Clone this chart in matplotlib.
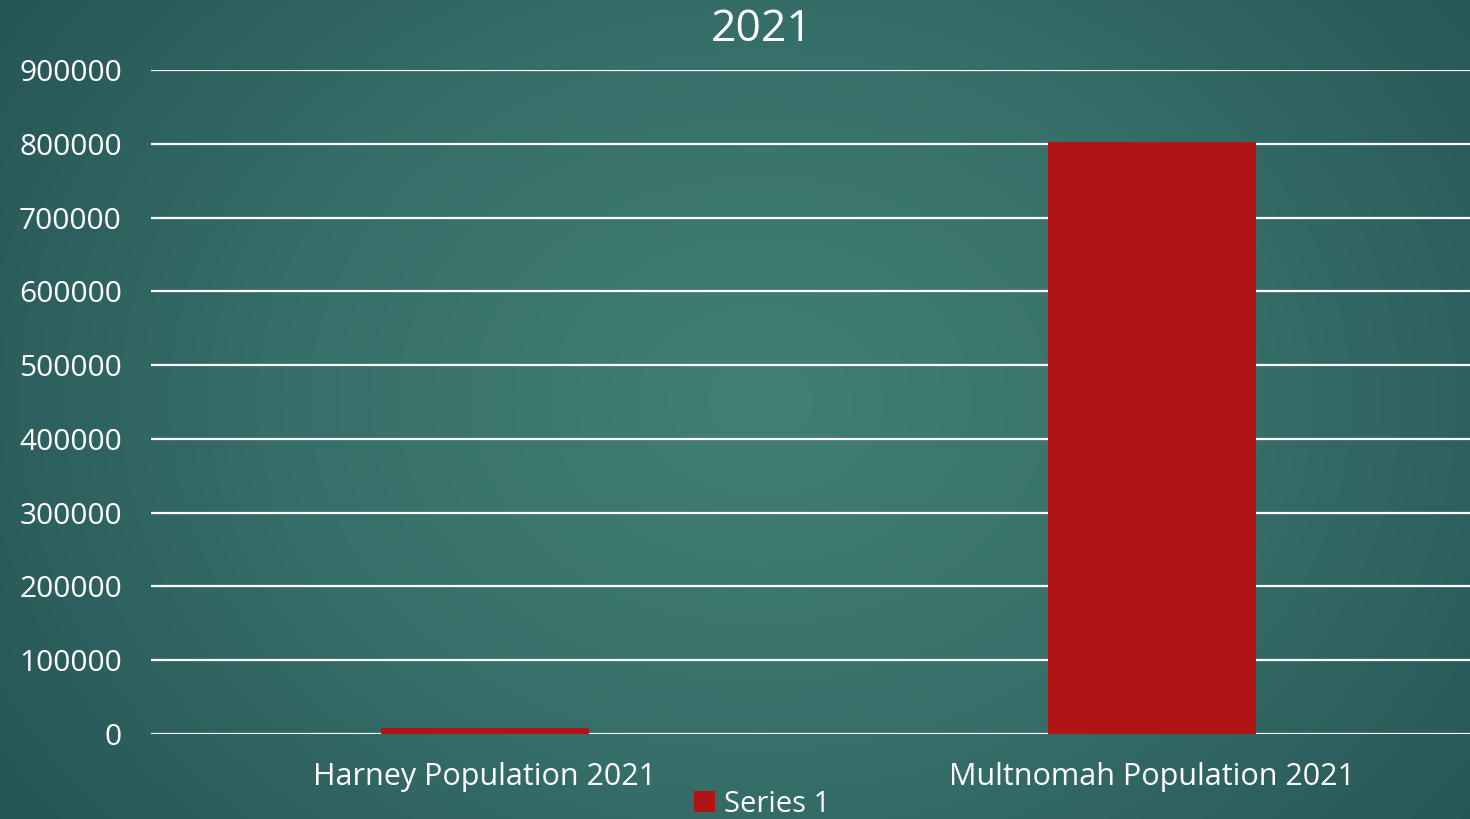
import numpy as np
import matplotlib
matplotlib.use("Agg")
import matplotlib.pyplot as plt
from matplotlib.colors import LinearSegmentedColormap

categories = ["Harney Population 2021", "Multnomah Population 2021"]
values = [7500, 803000]
series_name = "Series 1"
title = "2021"
yticks = list(range(0, 900001, 100000))

plt.rcParams['font.family'] = ['Open Sans', 'DejaVu Sans']

W, H = 1470, 819
fig = plt.figure(figsize=(W / 100, H / 100), dpi=100)

# background radial gradient
bg = fig.add_axes([0, 0, 1, 1], zorder=-10)
yy, xx = np.mgrid[0:H, 0:W]
cx, cy = 760, 400
r = np.sqrt(((xx - cx) / 900.0) ** 2 + ((yy - cy) / 700.0) ** 2)
r = np.clip(r, 0, 1)
cmap = LinearSegmentedColormap.from_list("bg", ["#427f73", "#37706a", "#275656"])
bg.imshow(r, cmap=cmap, vmin=0, vmax=1, aspect='auto', interpolation='bilinear')
bg.axis('off')

ax = fig.add_axes([151 / W, 1 - 734 / H, 1335 / W, (734 - 70) / H])
ax.set_facecolor('none')
x = np.arange(len(categories))
ax.bar(x, values, width=0.312, color="#b01414", zorder=3, label=series_name)
ax.set_xlim(-0.5, len(categories) - 0.5)
ax.set_ylim(0, 900000)
ax.set_yticks(yticks)
ax.set_yticklabels([str(v) for v in yticks])
ax.yaxis.grid(True, color='white', linewidth=1.6, zorder=1)
ax.set_axisbelow(True)
for s in ax.spines.values():
    s.set_visible(False)
ax.tick_params(axis='y', length=0, pad=21, labelsize=21.5, labelcolor='white')
ax.tick_params(axis='x', length=0, pad=20, labelsize=22, labelcolor='white')
ax.set_xticks(x)
ax.set_xticklabels(categories)

fig.text(762 / W, 1 - 30 / H, title, ha='center', va='center', color='white', fontsize=32)

leg = fig.legend(loc='center', bbox_to_anchor=(762 / W, 1 - 804 / H), frameon=False,
                 fontsize=21, labelcolor='white', handlelength=0.7, handleheight=0.7,
                 handletextpad=0.3)

fig.savefig("out.png", dpi=100)
